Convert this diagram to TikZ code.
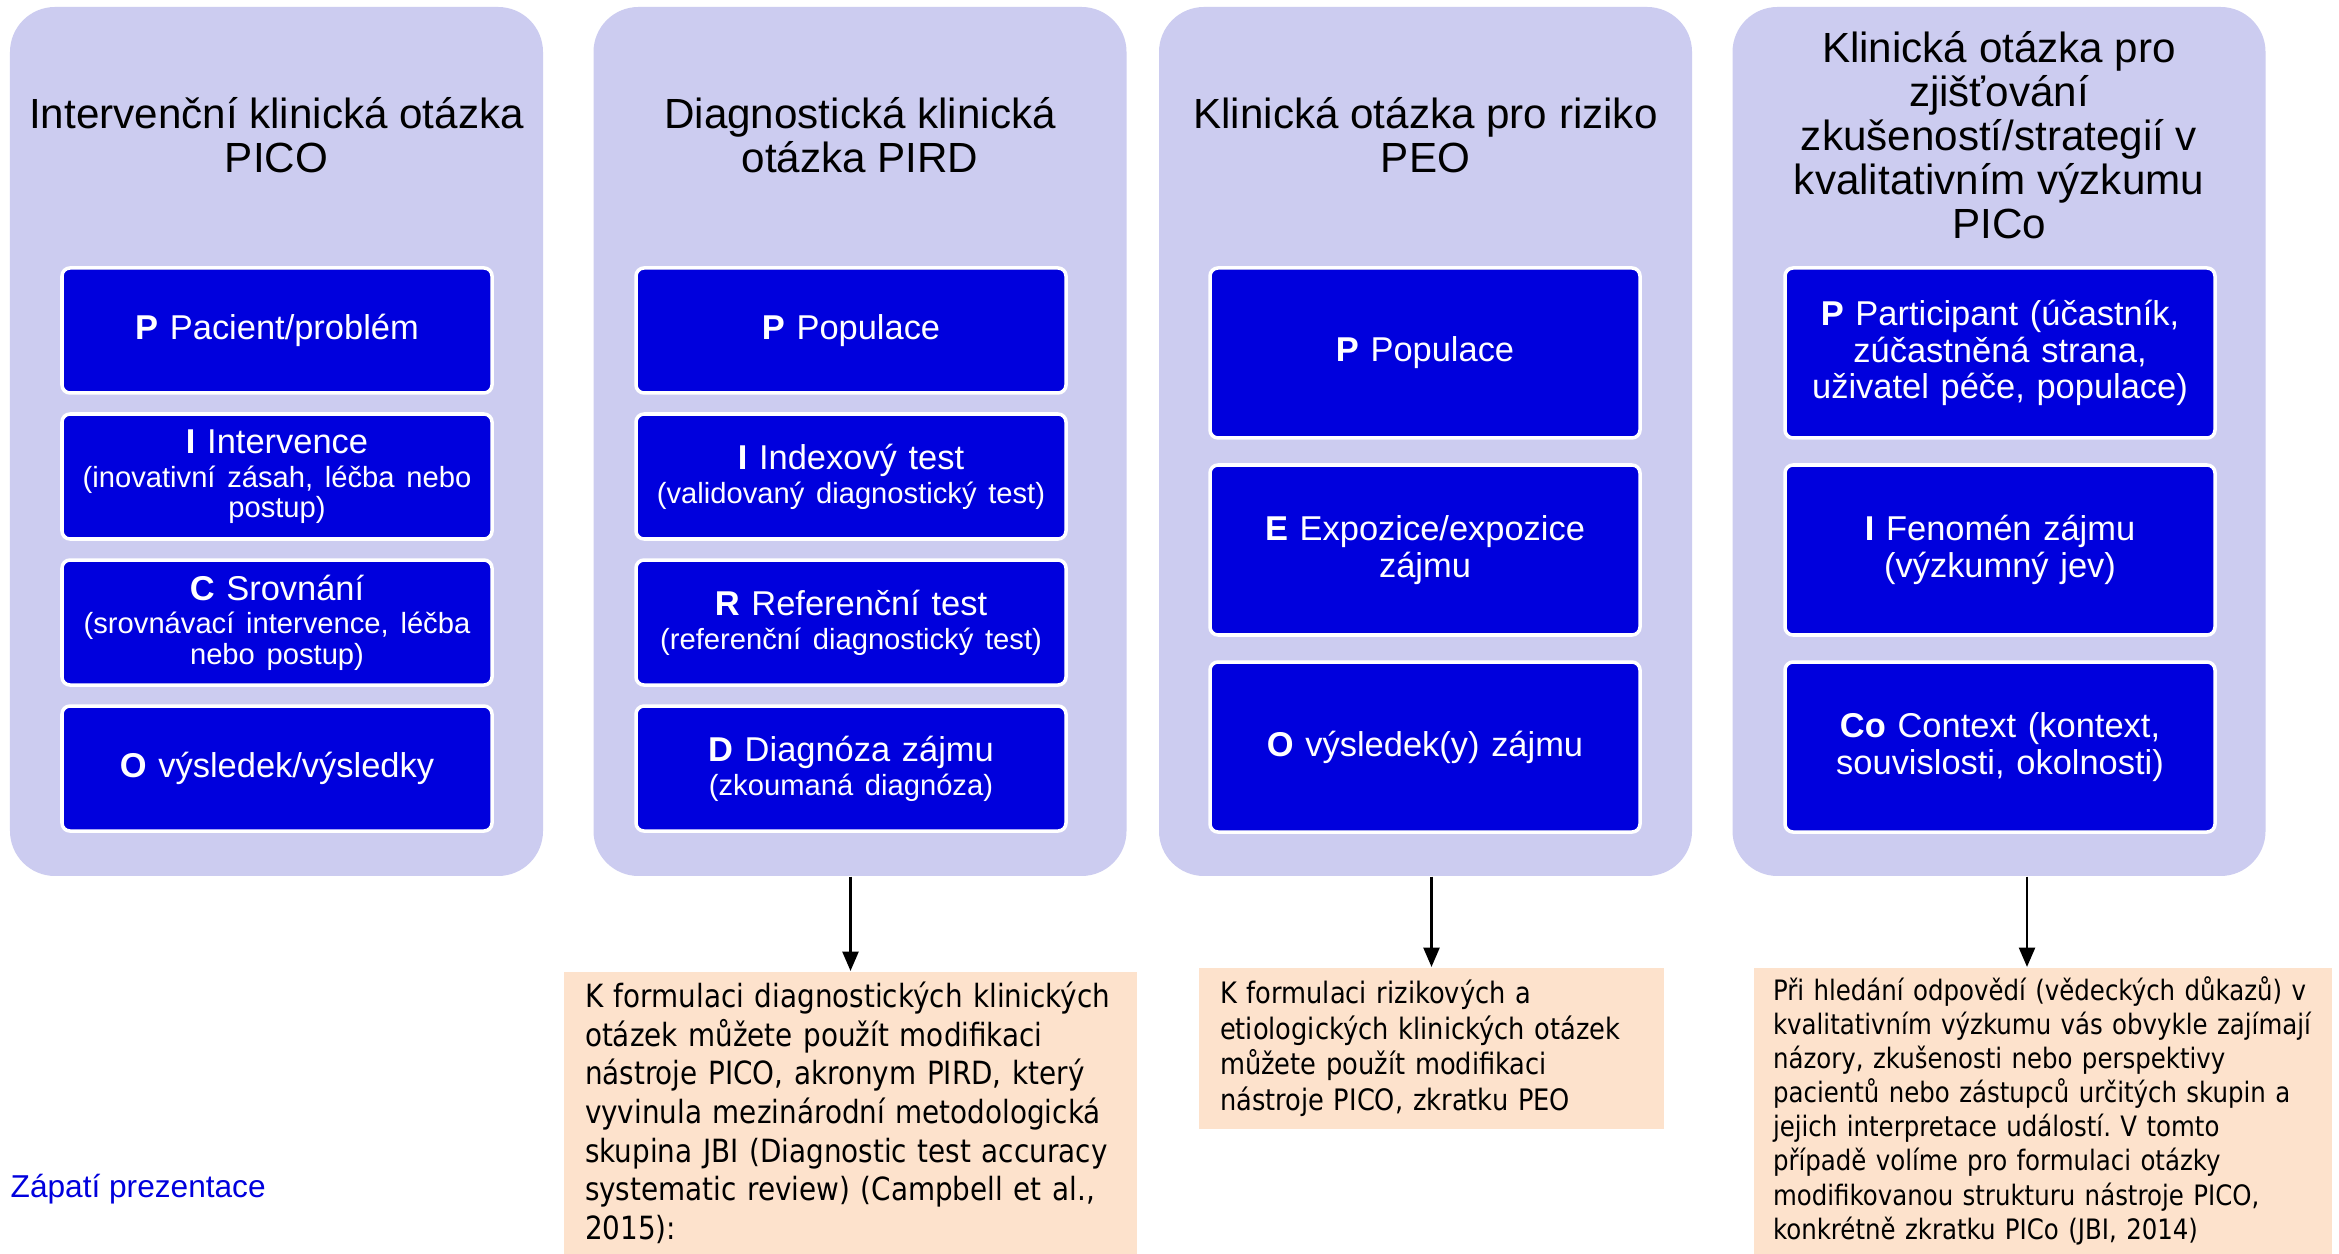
\documentclass[tikz,border=0pt]{standalone}
\usepackage{fontspec}
\setmainfont{Liberation Sans}
\newfontfamily\notefont[FakeStretch=0.87]{DejaVu Sans}
\usetikzlibrary{positioning, arrows.meta}
\frenchspacing

\definecolor{panelfill}{RGB}{204,204,240}
\definecolor{itemblue}{RGB}{0,0,221}
\definecolor{notefill}{RGB}{253,226,204}

\newcommand{\boxhd}[2]{{\fontsize{9.8}{10.4}\selectfont\textbf{#1} #2\par}}
\newcommand{\boxsub}[1]{\vskip1pt{\fontsize{8.3}{8.6}\selectfont #1\par}}

\begin{document}
\begin{tikzpicture}[
    panel/.style={rectangle, rounded corners=0.45cm, fill=panelfill, minimum width=5.33cm, minimum height=8.69cm, inner sep=0pt},
    heading/.style={align=center, font=\fontsize{12}{12.5}\selectfont, inner sep=0pt},
    itembox/.style={rectangle, rounded corners=0.08cm, draw=white, line width=1pt, fill=itemblue, text=white, minimum width=4.30cm, text width=4.1cm, align=center, inner sep=0pt},
    rowshort/.style={itembox, minimum height=1.25cm},
    rowtall/.style={itembox, minimum height=1.70cm},
    notebox/.style={rectangle, fill=notefill, anchor=north, align=left, inner xsep=0.21cm, inner ysep=0pt},
    arr/.style={-{Triangle[width=4.5pt,length=5.5pt]}, line width=0.8pt},
    footer/.style={anchor=west, inner sep=0pt, text=itemblue, font=\fontsize{9}{11}\selectfont}
]

% ============================================================
% PAGE: 23.39 x 12.53
% Panels: top y=12.46, bottom y=3.77, width 5.33
% Panel centres x: 2.765, 8.60, 14.255, 19.99
% ============================================================
\fill[white] (0,0) rectangle (23.39,12.53);
\useasboundingbox (0,0) rectangle (23.39,12.53);

% ============================================================
% Panel 1: intervention question PICO
% ============================================================
\node[panel] (panIntv) at (2.765,8.115) {};
\node[heading] (ttlIntv) at (2.765,11.18) {Intervenční klinická otázka\\PICO};

\node[rowshort] (intvP) at (2.77,9.225) {\boxhd{P}{Pacient/problém}};
\node[rowshort, below=0.175cm of intvP] (intvI) {\boxhd{I}{Intervence}\boxsub{(inovativní zásah, léčba nebo\\postup)}};
\node[rowshort, below=0.175cm of intvI] (intvC) {\boxhd{C}{Srovnání}\boxsub{(srovnávací intervence, léčba\\nebo postup)}};
\node[rowshort, below=0.175cm of intvC] (intvO) {\boxhd{O}{výsledek/výsledky}};

% ============================================================
% Panel 2: diagnostic question PIRD
% (item column sits a bit left of the panel centre)
% ============================================================
\node[panel] (panDiag) at (8.60,8.115) {};
\node[heading] (ttlDiag) at (8.60,11.18) {Diagnostická klinická\\otázka PIRD};

\node[rowshort] (diagP) at (8.51,9.225) {\boxhd{P}{Populace}};
\node[rowshort, below=0.175cm of diagP] (diagI) {\boxhd{I}{Indexový test}\boxsub{(validovaný diagnostický test)}};
\node[rowshort, below=0.175cm of diagI] (diagR) {\boxhd{R}{Referenční test}\boxsub{(referenční diagnostický test)}};
\node[rowshort, below=0.175cm of diagR] (diagD) {\boxhd{D}{Diagnóza zájmu}\boxsub{(zkoumaná diagnóza)}};

% ============================================================
% Panel 3: risk question PEO
% ============================================================
\node[panel] (panRisk) at (14.255,8.115) {};
\node[heading] (ttlRisk) at (14.255,11.18) {Klinická otázka pro riziko\\PEO};

\node[rowtall] (riskP) at (14.25,9.00) {\boxhd{P}{Populace}};
\node[rowtall, below=0.235cm of riskP] (riskE) {\boxhd{E}{Expozice/expozice\\zájmu}};
\node[rowtall, below=0.235cm of riskE] (riskO) {\boxhd{O}{výsledek(y) zájmu}};

% ============================================================
% Panel 4: qualitative question PICo
% ============================================================
\node[panel] (panQual) at (19.99,8.115) {};
\node[heading] (ttlQual) at (19.99,11.18) {Klinická otázka pro\\zjišťování\\zkušeností/strategií v\\kvalitativním výzkumu\\PICo};

\node[rowtall] (qualP) at (20.00,9.00) {\boxhd{P}{Participant (účastník,\\zúčastněná strana,\\uživatel péče, populace)}};
\node[rowtall, below=0.235cm of qualP] (qualI) {\boxhd{I}{Fenomén zájmu\\(výzkumný jev)}};
\node[rowtall, below=0.235cm of qualI] (qualCo) {\boxhd{Co}{Context (kontext,\\souvislosti, okolnosti)}};

% ============================================================
% NOTES under panels 2-4
% ============================================================
\node[notebox, minimum width=5.73cm, minimum height=2.82cm, text width=5.31cm,
      font=\notefont\fontsize{9.1}{11}\selectfont] (noteDiag) at (8.505,2.82)
  {K formulaci diagnostických klinických\\
   otázek můžete použít modifikaci\\
   nástroje PICO, akronym PIRD, který\\
   vyvinula mezinárodní metodologická\\
   skupina JBI (Diagnostic test accuracy\\
   systematic review) (Campbell et al.,\\
   2015):};

\node[notebox, minimum width=4.65cm, minimum height=1.61cm, text width=4.23cm,
      font=\notefont\fontsize{8.4}{10.2}\selectfont] (noteRisk) at (14.315,2.86)
  {K formulaci rizikových a\\
   etiologických klinických otázek\\
   můžete použít modifikaci\\
   nástroje PICO, zkratku PEO};

\node[notebox, minimum width=5.78cm, minimum height=2.86cm, text width=5.40cm, inner xsep=0.19cm,
      font=\notefont\fontsize{8}{9.7}\selectfont] (noteQual) at (20.43,2.86)
  {Při hledání odpovědí (vědeckých důkazů) v\\
   kvalitativním výzkumu vás obvykle zajímají\\
   názory, zkušenosti nebo perspektivy\\
   pacientů nebo zástupců určitých skupin a\\
   jejich interpretace událostí. V tomto\\
   případě volíme pro formulaci otázky\\
   modifikovanou strukturu nástroje PICO,\\
   konkrétně zkratku PICo (JBI, 2014)};

% ============================================================
% ARROWS panel -> note
% ============================================================
\draw[arr] (panDiag.south -| noteDiag.north) -- (noteDiag.north);
\draw[arr] (panRisk.south -| noteRisk.north) -- (noteRisk.north);
\coordinate (qualOut) at ([xshift=0.28cm]panQual.south);
\draw[arr] (qualOut) -- (qualOut |- noteQual.north);

% ============================================================
% FOOTER
% ============================================================
\node[footer] (footer) at (0.10,0.64) {Zápatí prezentace};

\end{tikzpicture}
\end{document}
